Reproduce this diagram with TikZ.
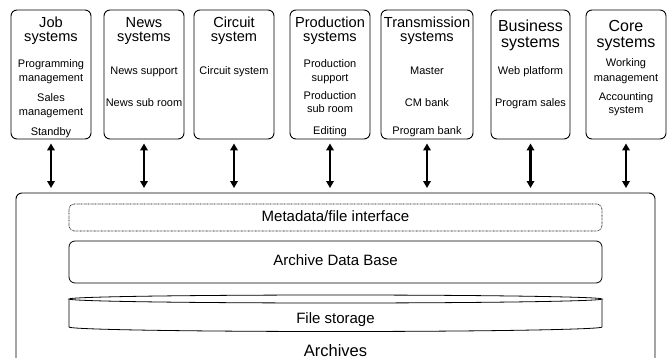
\documentclass[tikz,border=0pt]{standalone}
\usepackage{fontspec}
\setmainfont{Liberation Sans}
\usetikzlibrary{arrows.meta}
\begin{document}
\begin{tikzpicture}[x=1pt,y=-1pt,
  sysbox/.style={draw=black, line width=0.9pt, rounded corners=6pt, minimum height=129pt, inner sep=0pt},
  ttl/.style={anchor=base, inner sep=0pt, font=\fontsize{14.6}{15}\selectfont},
  ttlb/.style={anchor=base, inner sep=0pt, font=\fontsize{16}{16}\selectfont},
  itm/.style={anchor=base, inner sep=0pt, font=\fontsize{11}{11}\selectfont},
  big/.style={anchor=base, inner sep=0pt, font=\fontsize{15}{15}\selectfont},
  dblarrow/.style={line width=2.2pt, {Triangle[width=7.5pt,length=7pt]}-{Triangle[width=7.5pt,length=7pt]}},
  layer/.style={draw=black, line width=0.8pt, rounded corners=6pt, minimum width=533pt, inner sep=0pt,
    font=\fontsize{15}{15}\selectfont, text height=0.72em, text depth=0pt}
]
\useasboundingbox (0,0) rectangle (668,358);

% system boxes
\node[sysbox, minimum width=80pt] (job) at (51,74.5) {};
\node[sysbox, minimum width=80pt] (news) at (144,74.5) {};
\node[sysbox, minimum width=80pt] (circ) at (234,74.5) {};
\node[sysbox, minimum width=80pt] (prod) at (330,74.5) {};
\node[sysbox, minimum width=92pt] (trans) at (427,74.5) {};
\node[sysbox, minimum width=79pt] (bus) at (530.5,74.5) {};
\node[sysbox, minimum width=80pt] (core) at (626,74.5) {};

% titles
\node[ttl] (jobA) at (51,28) {Job};
\node[ttl] (jobB) at (51,42) {systems};
\node[ttl] (newsA) at (144,28) {News};
\node[ttl] (newsB) at (144,42) {systems};
\node[ttl] (circA) at (234,28) {Circuit};
\node[ttl] (circB) at (234,42) {system};
\node[ttl] (prodA) at (330,28) {Production};
\node[ttl] (prodB) at (330,42) {systems};
\node[ttl] (transA) at (427,28) {Transmission};
\node[ttl] (transB) at (427,42) {systems};
\node[ttlb] (busA) at (530.5,31.5) {Business};
\node[ttlb] (busB) at (530.5,47.5) {systems};
\node[ttlb] (coreA) at (626,31.5) {Core};
\node[ttlb] (coreB) at (626,47.5) {systems};

% items
\node[itm] (j1) at (51,68) {Programming};
\node[itm] (j2) at (51,82) {management};
\node[itm] (j3) at (51,102) {Sales};
\node[itm] (j4) at (51,116) {management};
\node[itm] (j5) at (51,135.5) {Standby};
\node[itm] (n1) at (144,75) {News support};
\node[itm] (n2) at (144,107) {News sub room};
\node[itm] (c1) at (234,75) {Circuit system};
\node[itm] (p1) at (330,68) {Production};
\node[itm] (p2) at (330,82) {support};
\node[itm] (p3) at (330,100) {Production};
\node[itm] (p4) at (330,113) {sub room};
\node[itm] (p5) at (330,135) {Editing};
\node[itm] (t1) at (427,75) {Master};
\node[itm] (t2) at (427,107) {CM bank};
\node[itm] (t3) at (427,135) {Program bank};
\node[itm] (b1) at (530.5,75) {Web platform};
\node[itm] (b2) at (530.5,107) {Program sales};
\node[itm] (k1) at (626,67) {Working};
\node[itm] (k2) at (626,82) {management};
\node[itm] (k3) at (626,101) {Accounting};
\node[itm] (k4) at (626,114) {system};

% archives container
\coordinate (atop) at (16,193);
\draw[line width=0.9pt, rounded corners=6pt] (16,358) -- (atop) -- (655,193) -- (655,358);

% arrows
\foreach \b in {job,news,circ,prod,trans,bus,core}
  \draw[dblarrow] ([yshift=-4pt]\b.south) -- ([yshift=5pt]\b.south |- atop);

% layers
\node[layer, line width=0.6pt, dash pattern=on 0.7pt off 0.7pt, rounded corners=5pt, minimum height=27pt] (meta) at (335.5,217.5) {Metadata/file interface};
\node[layer, minimum height=42pt] (adb) at (335.5,262) {Archive Data Base};

% file storage cylinder
\draw[line width=0.8pt] (335.5,299) ellipse [x radius=266.5pt, y radius=4pt];
\draw[line width=0.8pt] (69,299) -- (69,327) arc[start angle=180, end angle=360, x radius=266.5pt, y radius=4.5pt] -- (602,299);
\node[big] (fs) at (335.5,323.5) {File storage};
\node[anchor=base, inner sep=0pt, font=\fontsize{16.5}{16.5}\selectfont] (arch) at (335.5,356) {Archives};
\end{tikzpicture}
\end{document}
